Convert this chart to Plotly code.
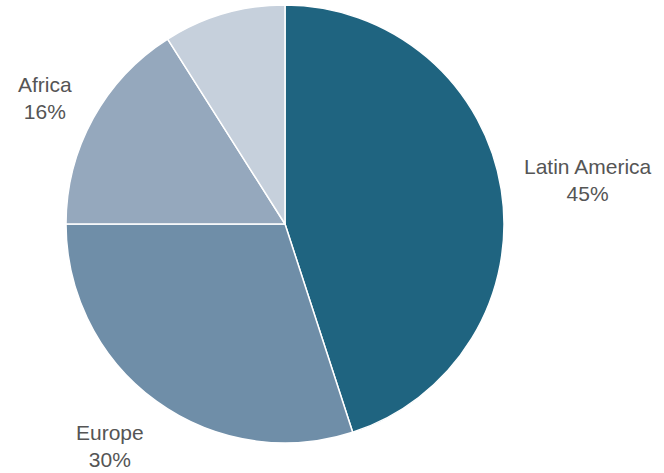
import plotly.graph_objects as go

regions = ["Latin America", "Europe", "Africa", "Other"]
shares = [45, 30, 16, 9]
colors = ["#1f6480", "#6f8ea8", "#95a8bd", "#c6d0dc"]
label_regions = ["Latin America", "Europe", "Africa"]
label_pos = [(588, 180), (110, 446), (45, 98)]  # pixel centers of labels

W, H = 664, 473
cx, cy, r = 285, 224, 219

fig = go.Figure(go.Pie(
    labels=regions,
    values=shares,
    sort=False,
    direction="clockwise",
    rotation=0,
    marker=dict(colors=colors, line=dict(color="white", width=1.5)),
    textinfo="none",
    hoverinfo="label+percent",
    showlegend=False,
    domain=dict(x=[(cx - r) / W, (cx + r) / W], y=[1 - (cy + r) / H, 1 - (cy - r) / H]),
))

annotations = []
for name, (px, py) in zip(label_regions, label_pos):
    v = shares[regions.index(name)]
    annotations.append(dict(
        x=px / W, y=1 - py / H, xref="paper", yref="paper",
        text=f"{name}<br>{v}%", showarrow=False,
        font=dict(family="Liberation Sans, Arial", size=21, color="#555555"),
        align="center", xanchor="center", yanchor="middle",
    ))

fig.update_layout(
    width=W, height=H,
    margin=dict(l=0, r=0, t=0, b=0),
    paper_bgcolor="white", plot_bgcolor="white",
    annotations=annotations,
)

fig.write_html("out.html")
